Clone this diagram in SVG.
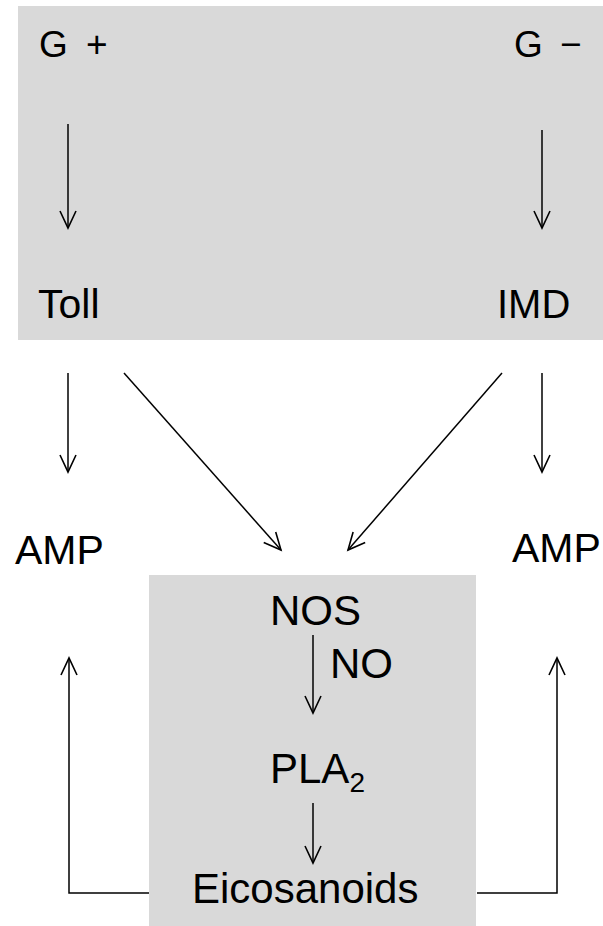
<svg xmlns="http://www.w3.org/2000/svg" width="603" height="926" viewBox="0 0 603 926">
<style>
.box{fill:#d9d9d9}
.t{font-family:"Liberation Sans",Arial,sans-serif;fill:#000}
.c{stroke:#000;stroke-width:1.5;fill:none;marker-end:url(#ah)}
</style>
<defs>
<marker id="ah" markerUnits="userSpaceOnUse" markerWidth="24" markerHeight="24" viewBox="-20 -12 24 24" refX="0" refY="0" orient="auto">
<path d="M-17,-8 L0,0 L-17,8" fill="none" stroke="#000" stroke-width="1.6"/>
</marker>
</defs>
<rect class="box" x="18" y="6" width="585" height="334"/>
<rect class="box" x="149" y="575" width="327" height="351"/>
<g id="gpos"><text class="t" y="57" font-size="37"><tspan x="39">G</tspan><tspan x="86">+</tspan></text></g>
<g id="gneg"><text class="t" y="57" font-size="37"><tspan x="514">G</tspan><tspan x="560">−</tspan></text></g>
<g id="toll"><text class="t" x="38" y="318" font-size="41">Toll</text></g>
<g id="imd"><text class="t" x="497" y="318" font-size="40">IMD</text></g>
<g id="amp-left"><text class="t" x="15" y="564" font-size="41">AMP</text></g>
<g id="amp-right"><text class="t" x="512" y="562" font-size="41">AMP</text></g>
<g id="nos"><text class="t" x="270" y="625" font-size="42">NOS</text></g>
<g id="no"><text class="t" x="330" y="678" font-size="42">NO</text></g>
<g id="pla2"><text class="t" x="270" y="783" font-size="42">PLA<tspan font-size="28" dy="9">2</tspan></text></g>
<g id="eico"><text class="t" x="192" y="903" font-size="42">Eicosanoids</text></g>
<g id="connectors">
<line class="c" x1="68" y1="124" x2="68" y2="228"/>
<line class="c" x1="542" y1="130" x2="542" y2="228"/>
<line class="c" x1="68" y1="373" x2="68" y2="472"/>
<line class="c" x1="542" y1="373" x2="542" y2="472"/>
<line class="c" x1="124" y1="373" x2="281" y2="550"/>
<line class="c" x1="502" y1="373" x2="348" y2="550"/>
<line class="c" x1="313" y1="635" x2="313" y2="713"/>
<line class="c" x1="313" y1="803" x2="313" y2="863"/>
<polyline class="c" points="149,893 69,893 69,658"/>
<polyline class="c" points="477,893 557,893 557,658"/>
</g>
</svg>
